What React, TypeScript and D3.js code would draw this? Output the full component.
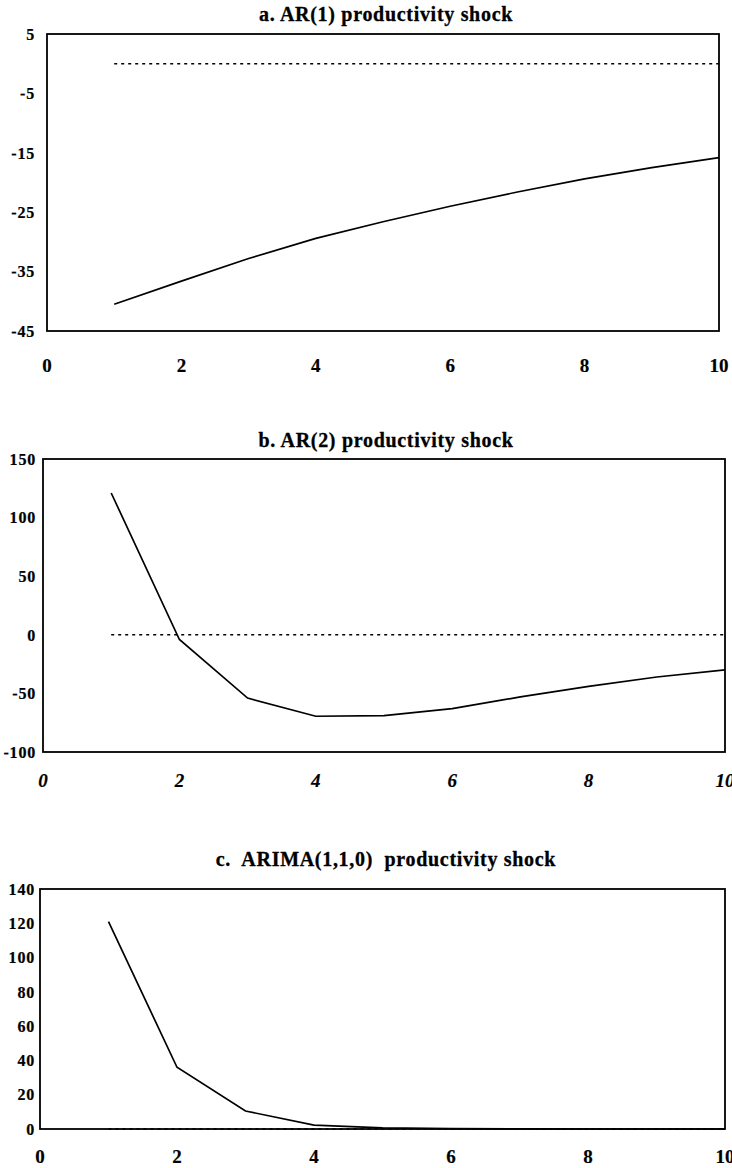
import React from "react";
import * as d3 from "d3";

// impulse responses, periods 1..10
const periods = [1, 2, 3, 4, 5, 6, 7, 8, 9, 10];
const ar1Values = [-40.5, -36.6, -32.8, -29.4, -26.6, -24.0, -21.6, -19.4, -17.5, -15.8];
const ar2Values = [121, -4, -54, -69.5, -69, -63, -53, -44, -36, -30];
const arimaValues = [121, 36, 10.5, 2.3, 0.7, 0.2, 0.05, 0, 0, 0];
const zeroValues = [0, 0, 0, 0, 0, 0, 0, 0, 0, 0];

const xTicks = [0, 2, 4, 6, 8, 10];
const ar1Ticks = [5, -5, -15, -25, -35, -45];
const ar2Ticks = [150, 100, 50, 0, -50, -100];
const arimaTicks = [140, 120, 100, 80, 60, 40, 20, 0];

const FONT = "'Liberation Serif', 'Times New Roman', serif";

type PanelProps = {
  title: string;
  values: number[];
  ticks: number[];
  domain: [number, number];
  box: { left: number; right: number; top: number; bottom: number };
  titleY: number;
  xLabelY: number;
  labelX: number;
  italicX?: boolean;
};

function Panel({ title, values, ticks, domain, box, titleY, xLabelY, labelX, italicX }: PanelProps) {
  const x = d3.scaleLinear().domain([0, 10]).range([box.left, box.right]);
  const y = d3.scaleLinear().domain(domain).range([box.bottom, box.top]);
  const line = d3
    .line<number>()
    .x((_d, i) => x(periods[i]))
    .y((d) => y(d));

  return (
    <g>
      <text
        x={386}
        y={titleY}
        textAnchor="middle"
        fontFamily={FONT}
        fontWeight="bold"
        fontSize={20}
        letterSpacing={0.7}
        stroke="#000"
        strokeWidth={0.3}
        xmlSpace="preserve"
        style={{ whiteSpace: "pre" }}
      >
        {title}
      </text>
      <path d={line(zeroValues) || ""} fill="none" stroke="#000" strokeWidth={1.4} strokeDasharray="3,4" />
      <path d={line(values) || ""} fill="none" stroke="#000" strokeWidth={1.7} />
      <rect
        x={box.left}
        y={box.top}
        width={box.right - box.left}
        height={box.bottom - box.top}
        fill="none"
        stroke="#000"
        strokeWidth={1.8}
      />
      {ticks.map((t) => (
        <text
          key={t}
          x={labelX}
          y={y(t)}
          dy="0.36em"
          textAnchor="end"
          fontFamily={FONT}
          fontWeight="bold"
          fontSize={16}
          letterSpacing={0.8}
          stroke="#000"
          strokeWidth={0.2}
        >
          {t}
        </text>
      ))}
      {xTicks.map((t) => (
        <text
          key={t}
          x={x(t)}
          y={xLabelY}
          textAnchor="middle"
          fontFamily={FONT}
          fontWeight="bold"
          fontStyle={italicX ? "italic" : "normal"}
          fontSize={19}
          stroke="#000"
          strokeWidth={0.2}
        >
          {t}
        </text>
      ))}
    </g>
  );
}

export default function App() {
  React.useEffect(() => {
    document.body.style.margin = "0";
  }, []);

  return (
    <svg width={732} height={1168} style={{ display: "block", background: "#fff" }}>
      <Panel
        title="a. AR(1) productivity shock"
        values={ar1Values}
        ticks={ar1Ticks}
        domain={[-45, 5]}
        box={{ left: 47, right: 719, top: 34, bottom: 331 }}
        titleY={21}
        xLabelY={372}
        labelX={35}
      />
      <Panel
        title="b. AR(2) productivity shock"
        values={ar2Values}
        ticks={ar2Ticks}
        domain={[-100, 150]}
        box={{ left: 43, right: 725, top: 459, bottom: 752 }}
        titleY={447}
        xLabelY={787}
        labelX={36}
        italicX
      />
      <Panel
        title="c.  ARIMA(1,1,0)  productivity shock"
        values={arimaValues}
        ticks={arimaTicks}
        domain={[0, 140]}
        box={{ left: 40, right: 725, top: 889, bottom: 1129 }}
        titleY={866}
        xLabelY={1163}
        labelX={35}
      />
    </svg>
  );
}
